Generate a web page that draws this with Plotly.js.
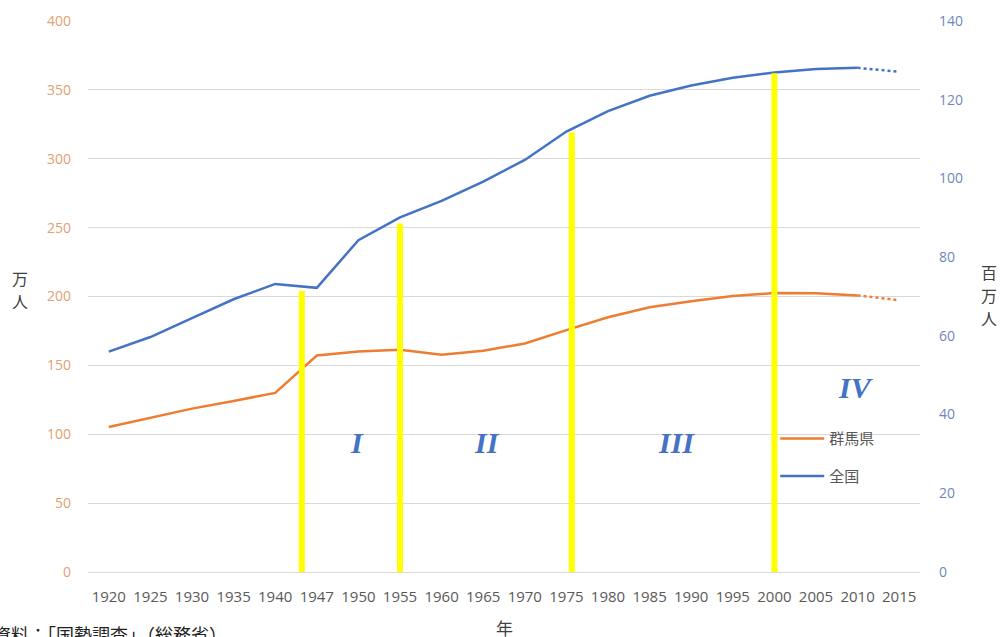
<!DOCTYPE html>
<html>
<head>
<meta charset="utf-8">
<script src="https://cdn.plot.ly/plotly-3.0.1.min.js"></script>
<style>html,body{margin:0;padding:0;background:#fff;}#chart{width:1003px;height:637px;}</style>
</head>
<body>
<div id="chart"></div>
<script>
// Categories (census years)
const years = ['1920','1925','1930','1935','1940','1947','1950','1955','1960','1965','1970','1975','1980','1985','1990','1995','2000','2005','2010','2015'];
// 群馬県 population (万人), left axis
const gunma = [105.2,111.8,118.6,124.2,130.0,157.2,160.1,161.4,157.8,160.6,165.9,175.6,184.9,192.2,196.6,200.4,202.5,202.4,200.8,197.3];
// 全国 population (百万人), right axis
const japan = [56.0,59.7,64.5,69.3,73.2,72.2,84.3,90.1,94.3,99.2,104.7,111.9,117.1,121.0,123.6,125.6,126.9,127.8,128.1,127.1];
// Index where the projection (dotted) part starts
const solidEnd = 18;
// Period divider lines: category index position and top value (万人)
const dividerPos = [4.64, 7.0, 11.13, 16.0];
const dividerTop = [204, 253, 319, 362];
// Period labels
const periodLabels = ['I','II','III','IV'];
const periodPos = [5.97, 9.1, 13.65, 17.95];
const periodY = [94, 94, 94, 134];

const orange = '#ED7D31', blue = '#4472C4';
const cjk = '"Noto Sans CJK JP", "Noto Sans", sans-serif';

const traces = [
  {x: years.slice(0, solidEnd+1), y: gunma.slice(0, solidEnd+1), name: '群馬県', type:'scatter', mode:'lines',
   line:{color:orange, width:2.5}, yaxis:'y', legendgroup:'g'},
  {x: years.slice(solidEnd), y: gunma.slice(solidEnd), name: '群馬県', type:'scatter', mode:'lines',
   line:{color:orange, width:2.5, dash:'dot'}, yaxis:'y', showlegend:false, legendgroup:'g'},
  {x: years.slice(0, solidEnd+1), y: japan.slice(0, solidEnd+1), name: '全国', type:'scatter', mode:'lines',
   line:{color:blue, width:2.5}, yaxis:'y2', legendgroup:'j'},
  {x: years.slice(solidEnd), y: japan.slice(solidEnd), name: '全国', type:'scatter', mode:'lines',
   line:{color:blue, width:2.5, dash:'dot'}, yaxis:'y2', showlegend:false, legendgroup:'j'}
];

const shapes = dividerPos.map((p, i) => ({
  type:'line', xref:'x', yref:'y', x0:p, x1:p, y0:0, y1:dividerTop[i],
  line:{color:'#FFFF00', width:6}, layer:'above'
}));

const annotations = periodLabels.map((t, i) => ({
  x: periodPos[i], y: periodY[i], xref:'x', yref:'y', text:'<b><i>'+t+'</i></b>', showarrow:false,
  font:{family:'"Liberation Serif", "DejaVu Serif", serif', size:30, color:'#4472C4'}
}));
const axisTitleStyle = {family:cjk, size:16, color:'#404040'};
const leftTitle = ['万','人'];
leftTitle.forEach((c, i) => annotations.push({xref:'paper', yref:'paper', x:-0.082, y:0.533 - i*0.042,
  text:c, showarrow:false, font:axisTitleStyle, xanchor:'center', yanchor:'middle'}));
const rightTitle = ['百','万','人'];
rightTitle.forEach((c, i) => annotations.push({xref:'paper', yref:'paper', x:1.083, y:0.545 - i*0.042,
  text:c, showarrow:false, font:axisTitleStyle, xanchor:'center', yanchor:'middle'}));
annotations.push(
  {xref:'paper', yref:'paper', x:0.501, y:-0.1, text:'年', showarrow:false,
   font:{family:cjk, size:17, color:'#404040'}, xanchor:'center', yanchor:'middle'},
  {xref:'paper', yref:'paper', x:-0.116, y:-0.113, text:'資料：「国勢調査」（総務省）', showarrow:false,
   font:{family:cjk, size:18, color:'#222222'}, xanchor:'left', yanchor:'middle'}
);

const layout = {
  width:1003, height:637,
  margin:{l:88, r:83, t:21, b:65},
  paper_bgcolor:'#ffffff', plot_bgcolor:'#ffffff',
  showlegend:true,
  legend:{x:0.826, y:0.272, xanchor:'left', yanchor:'top', bgcolor:'rgba(0,0,0,0)',
    font:{family:cjk, size:15, color:'#595959'}, tracegroupgap:15, itemwidth:44},
  xaxis:{type:'category', range:[-0.5, 19.5], showgrid:false, zeroline:false, showline:false, ticks:'',
    tickfont:{family:'"Open Sans", sans-serif', size:15, color:'#595959'}, ticklabelstandoff:14,
    fixedrange:true},
  yaxis:{range:[0,400], dtick:50, showgrid:true, gridcolor:'#d9d9d9', gridwidth:1, zeroline:true,
    zerolinecolor:'#d9d9d9', zerolinewidth:1, showline:false, ticks:'',
    tickfont:{family:'"Open Sans", sans-serif', size:14, color:'#DFA172'}, ticklabelstandoff:16},
  yaxis2:{range:[0,140], dtick:20, overlaying:'y', side:'right', showgrid:false, zeroline:false,
    showline:false, ticks:'', tickfont:{family:'"Open Sans", sans-serif', size:14, color:'#6F87BA'},
    ticklabelstandoff:18},
  shapes: shapes,
  annotations: annotations
};

Plotly.newPlot('chart', traces, layout, {displayModeBar:false, staticPlot:true});
</script>
</body>
</html>
